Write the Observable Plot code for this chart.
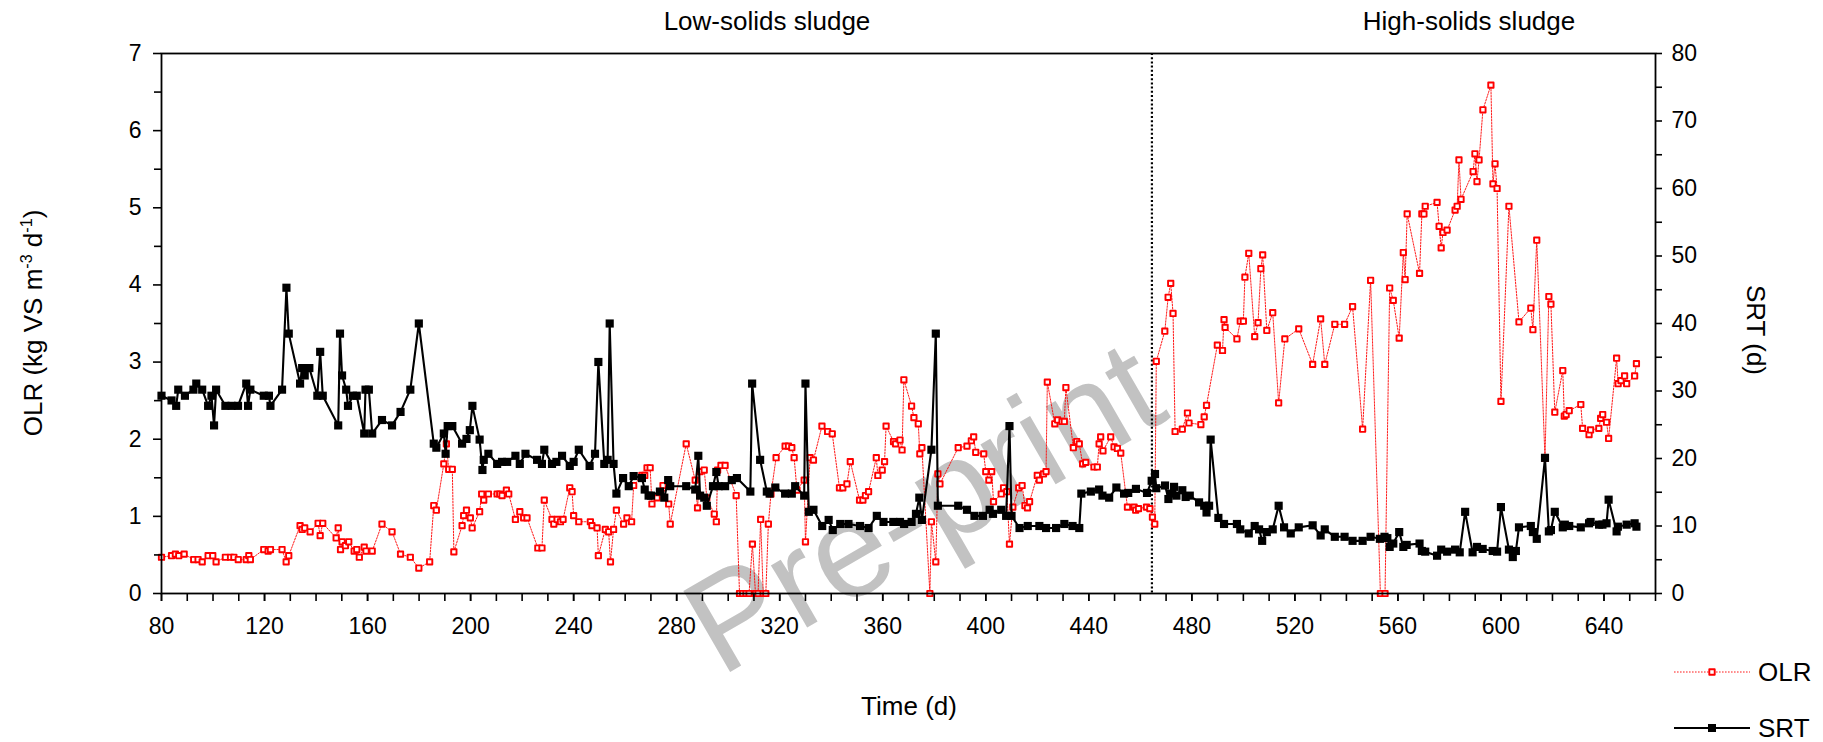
<!DOCTYPE html>
<html>
<head>
<meta charset="utf-8">
<script src="https://cdn.jsdelivr.net/npm/d3@7"></script>
<script src="https://cdn.jsdelivr.net/npm/@observablehq/plot@0.6"></script>
<style>
  body { margin: 0; background: #fff; }
  #wrap { position: relative; width: 1823px; height: 742px; font-family: "Liberation Sans", Arial, sans-serif; color: #000; overflow: hidden; }
  #chart { position: absolute; left: 0; top: 0; }
  .lbl { position: absolute; white-space: nowrap; font-size: 26px; line-height: 1; transform: translate(-50%, -50%); }
  .lbl sup { font-size: 0.62em; vertical-align: 0.62em; line-height: 0; }
  .leg { position: absolute; left: 1672px; height: 24px; display: flex; align-items: center; font-size: 26px; line-height: 24px; }
  .leg svg { display: block; margin-right: 6px; }
</style>
</head>
<body>
<div id="wrap">
  <div id="chart"></div>
</div>
<script>
// ---------- data ----------
const olrDay = [80.0,83.9,85.4,86.7,88.8,92.5,94.2,95.8,98.1,99.9,101.2,104.8,106.8,108.1,109.8,112.9,113.9,114.5,119.7,121.4,122.3,126.8,128.4,129.4,133.8,134.6,135.6,137.7,140.8,141.6,142.6,147.8,148.6,149.5,150.1,151.4,152.7,154.8,155.8,156.8,158.7,159.4,161.8,165.6,169.5,172.8,176.6,179.9,184.1,185.7,186.7,189.6,190.6,191.5,192.9,193.5,196.7,197.3,198.4,199.9,200.6,203.5,204.3,205.1,206.9,210.3,211.3,212.2,213.9,214.8,217.4,219.1,220.6,221.9,226.1,227.7,228.6,231.6,232.3,233.6,234.9,235.9,238.5,239.4,240.0,242.0,246.5,247.1,249.1,249.6,252.3,253.6,254.3,255.5,256.6,259.4,260.7,262.5,263.3,266.5,267.6,268.5,269.7,270.4,272.4,274.7,276.9,277.5,283.7,287.2,288.1,289.1,290.7,291.7,294.6,295.4,295.9,297.2,298.8,303.1,304.4,305.6,306.9,308.1,309.4,310.6,311.6,312.6,313.6,314.6,315.6,316.6,318.6,322.1,323.4,324.7,325.6,326.7,329.5,330.0,331.8,333.1,336.4,338.6,340.4,343.2,344.5,346.1,347.4,351.0,352.3,353.3,354.5,357.5,358.1,359.8,360.7,361.3,364.2,365.0,366.7,367.5,368.2,371.2,372.1,373.8,374.4,375.2,378.3,378.9,380.6,381.4,382.2,389.3,392.7,394.4,395.3,396.1,399.2,400.0,401.2,402.3,403.0,406.0,406.9,408.2,409.2,410.5,412.8,414.1,415.2,416.2,417.0,420.0,420.8,422.4,423.4,423.9,426.8,427.9,429.6,430.5,431.1,434.0,435.3,436.3,437.6,438.8,442.0,443.3,444.0,444.6,445.5,448.5,449.8,451.1,452.4,455.0,457.6,458.2,459.3,462.4,463.7,464.7,465.6,466.2,469.5,470.8,471.8,472.7,473.5,476.3,478.3,478.9,483.5,484.8,485.7,489.9,491.9,492.5,492.9,497.5,498.8,500.0,500.6,502.1,504.4,505.7,506.8,507.5,509.1,511.4,513.7,516.1,521.5,526.9,530.0,531.6,535.5,539.3,542.4,546.3,549.4,553.2,555.0,556.8,558.2,560.5,562.1,562.8,563.6,568.4,569.3,570.1,570.6,575.2,576.0,576.8,577.5,579.1,582.2,583.0,583.7,584.5,589.2,589.9,590.7,591.5,593.0,596.1,596.9,597.7,598.5,600.0,603.1,607.0,611.6,612.4,613.9,617.1,618.6,619.4,620.9,624.0,624.6,625.3,626.5,631.0,631.7,634.2,634.8,638.0,638.7,639.5,641.0,641.8,644.9,645.5,646.6,648.0,648.8,651.9,652.6];
const olrValue = [0.47,0.49,0.51,0.49,0.51,0.44,0.44,0.41,0.49,0.49,0.41,0.47,0.47,0.47,0.44,0.44,0.49,0.44,0.57,0.55,0.57,0.57,0.41,0.49,0.88,0.83,0.85,0.80,0.91,0.75,0.91,0.72,0.85,0.57,0.67,0.62,0.67,0.55,0.57,0.47,0.60,0.55,0.55,0.90,0.80,0.51,0.47,0.33,0.41,1.14,1.08,1.68,1.94,1.61,1.61,0.54,0.88,1.01,1.08,0.98,0.85,1.06,1.29,1.21,1.29,1.29,1.29,1.27,1.34,1.29,0.96,1.06,0.98,0.98,0.59,0.59,1.21,0.96,0.90,0.96,0.93,0.96,1.37,1.32,1.01,0.93,0.93,0.88,0.85,0.49,0.83,0.80,0.41,0.83,1.08,0.90,0.98,0.93,1.40,1.53,1.53,1.63,1.63,1.16,1.24,1.40,1.16,0.90,1.94,1.47,1.11,1.58,1.60,1.24,1.03,0.93,1.60,1.66,1.66,1.27,0,0,0,0,0.64,0,0,0.96,0,0,0.90,1.29,1.76,1.91,1.91,1.89,1.76,1.34,1.47,0.67,1.76,1.73,2.17,2.10,2.07,1.37,1.37,1.42,1.71,1.21,1.21,1.27,1.32,1.76,1.53,1.60,1.71,2.17,1.97,1.94,1.99,1.86,2.77,2.43,2.28,2.20,1.81,1.89,0,0.93,0.41,1.55,1.42,1.89,1.91,1.98,2.03,1.83,1.81,1.58,1.47,1.58,1.19,1.29,1.37,1.32,0.64,1.12,1.37,1.40,1.14,1.11,1.19,1.53,1.47,1.55,1.58,2.74,2.20,2.25,2.23,2.23,2.67,1.89,1.97,1.94,1.68,1.70,1.64,1.64,1.94,2.03,1.85,2.03,1.90,1.88,1.82,1.12,1.12,1.08,1.10,1.12,1.10,0.99,0.90,3.01,3.40,3.84,4.02,3.63,2.10,2.13,2.34,2.21,2.19,2.29,2.44,3.22,3.15,3.55,3.45,3.30,3.53,3.53,4.10,4.41,3.33,3.51,4.21,4.39,3.41,3.64,2.47,3.30,3.43,2.97,3.56,2.97,3.49,3.49,3.72,2.13,4.06,0,0,3.96,3.80,3.31,4.42,4.07,4.92,4.15,4.92,4.92,5.02,5.07,4.76,4.48,4.68,4.71,4.97,5.02,5.62,5.11,5.47,5.70,5.34,5.62,6.27,6.59,5.31,5.57,5.25,2.49,5.02,3.52,3.70,3.42,4.58,1.75,3.85,3.75,2.35,2.89,2.30,2.32,2.37,2.45,2.14,2.06,2.12,2.14,2.27,2.32,2.22,2.01,3.05,2.72,2.76,2.82,2.72,2.82,2.98];

const srtDay = [80.0,83.9,85.7,86.5,89.1,92.4,93.5,95.8,98.1,99.4,100.4,101.2,104.8,107.2,109.7,112.9,113.6,114.5,119.7,121.7,122.3,126.8,128.5,129.4,133.8,134.6,135.6,137.4,140.5,141.6,142.6,148.6,149.3,150.1,151.7,152.4,154.3,155.8,158.7,159.2,160.5,161.8,165.6,169.5,172.8,176.6,179.9,185.7,186.7,189.6,190.3,191.1,192.9,196.7,198.4,199.7,200.7,203.5,204.6,205.1,206.9,210.3,212.2,214.2,217.4,219.1,221.3,225.8,227.7,228.6,231.6,233.3,235.5,238.5,240.0,242.0,246.2,248.3,249.6,251.9,253.2,254.0,255.5,256.6,259.2,261.4,263.3,266.5,267.6,269.1,270.0,273.5,275.2,276.7,277.5,283.7,287.2,288.4,289.1,290.7,291.7,294.1,295.4,296.3,298.8,301.4,303.4,308.6,309.3,312.4,315.0,316.1,318.3,322.1,324.7,326.0,329.5,330.0,331.3,333.1,336.5,339.0,340.6,343.5,346.7,351.2,354.5,357.7,360.3,364.1,366.7,368.3,371.2,372.9,374.2,375.2,378.9,380.6,381.4,389.3,392.7,395.6,398.9,401.5,402.8,406.0,407.9,409.2,410.0,413.1,416.3,420.8,423.4,427.3,430.5,433.7,436.3,437.1,440.8,444.0,445.3,447.9,450.7,453.7,455.3,458.3,462.6,464.4,465.7,466.2,469.6,470.9,471.9,473.1,474.0,476.3,477.6,479.2,482.8,484.8,485.7,486.7,487.3,490.3,492.5,497.5,498.8,502.1,504.4,506.1,507.3,509.1,511.4,513.7,515.8,518.4,521.5,526.9,530.0,531.6,535.5,539.3,542.4,546.3,549.4,553.0,554.8,555.9,556.8,558.2,560.5,562.1,563.4,568.4,569.3,570.6,575.2,576.8,579.1,582.2,584.0,586.1,589.0,590.7,592.9,596.8,598.5,600.0,603.1,604.6,605.8,607.0,611.6,612.4,613.9,617.1,618.6,619.4,620.9,624.0,624.8,626.5,631.0,634.2,634.8,638.1,639.4,641.0,641.8,644.9,645.4,648.8,651.9,652.6];
const srtValue = [29.3,28.6,27.8,30.2,29.3,30.2,31.1,30.2,27.8,29.3,24.9,30.2,27.8,27.8,27.8,31.1,27.8,30.2,29.3,29.3,27.8,30.2,45.3,38.5,31.1,33.4,32.3,33.4,29.3,35.8,29.3,24.9,38.5,32.3,30.2,27.8,29.3,29.3,23.7,30.2,30.2,23.7,25.7,24.9,26.9,30.2,40.0,22.2,21.6,23.7,20.7,24.8,24.8,22.2,22.9,24.2,27.8,22.8,18.3,19.8,20.7,19.2,19.5,19.5,20.4,19.2,20.7,19.8,19.2,21.3,19.2,19.5,20.4,18.9,19.5,21.3,18.9,20.7,34.3,19.2,19.8,40.0,19.2,14.8,17.1,15.9,17.4,17.1,15.4,14.5,14.5,15.1,14.2,16.8,15.9,15.9,15.4,20.4,14.5,14.2,13.0,15.9,18.0,15.9,15.9,16.8,17.1,15.1,31.1,19.8,15.1,14.8,15.7,14.8,14.8,15.9,14.5,31.1,12.1,12.4,10.0,10.9,9.4,10.3,10.3,10.0,9.7,11.5,10.6,10.6,10.6,10.3,10.6,11.8,14.2,10.9,21.3,38.5,13.0,13.0,12.4,11.5,11.5,12.4,11.8,12.4,11.5,24.8,11.5,9.7,10.0,10.0,9.7,9.7,10.3,10.0,9.7,14.8,15.1,15.4,14.5,14.2,15.7,14.8,14.9,15.5,14.9,16.7,17.7,15.6,16.0,14.0,14.8,15.8,14.5,15.3,14.3,14.5,13.5,13.0,12.0,13.0,22.8,11.2,10.3,10.3,9.5,8.9,10.0,9.5,7.8,9.1,9.5,13.0,9.8,8.9,9.8,10.1,8.6,9.5,8.4,8.4,7.8,7.8,8.4,8.1,8.4,8.2,6.9,7.4,9.1,6.9,7.2,7.4,6.3,6.2,5.6,6.5,6.2,6.5,6.1,12.1,6.1,6.9,6.6,6.3,6.2,12.8,6.5,5.4,6.3,9.8,10.0,9.1,8.1,20.1,9.2,9.4,12.1,9.8,10.2,10.0,9.8,10.4,10.6,10.2,10.2,10.4,13.9,9.2,9.9,10.2,10.4,9.9];

// axis ticks / labels
const xTickLabels = [80,120,160,200,240,280,320,360,400,440,480,520,560,600,640];
const xMinorTicks = d3.range(80, 661, 10);
const xDomain = [80, 660];
const olrTicks = [0,1,2,3,4,5,6,7];
const olrMinorTicks = [0.5,1.5,2.5,3.5,4.5,5.5,6.5];
const srtTicks = [0,10,20,30,40,50,60,70,80];
const srtMinorTicks = [5,15,25,35,45,55,65,75];
const phaseBoundary = [464.5];
const phaseLabels = ["Low-solids sludge", "High-solids sludge"];
const seriesNames = ["OLR", "SRT"];

// ---------- build ----------
const olr = olrDay.map((d, i) => ({day: d, value: olrValue[i]}));
const srt = srtDay.map((d, i) => ({day: d, value: srtValue[i]}));
const olrMax = d3.max(olrTicks), srtMax = d3.max(srtTicks);
const toLeft = v => v * olrMax / srtMax;   // SRT (right axis) -> OLR (left axis) units

const FONT = '"Liberation Sans", Arial, sans-serif';

const chart = Plot.plot({
  width: 1823,
  height: 742,
  marginLeft: 161,
  marginRight: 168,
  marginTop: 53,
  marginBottom: 149,
  x: {domain: xDomain},
  y: {domain: [0, olrMax]},
  style: {fontFamily: FONT, fontSize: "23px", color: "#000", background: "white", overflow: "visible"},
  marks: [
    Plot.text(["Pre-print"], {frameAnchor: "middle", dx: 16, dy: 186, rotate: -30, fontSize: 136, fill: "#c2c2c2", fontFamily: FONT, textAnchor: "middle", lineAnchor: "middle"}),
    Plot.ruleX(phaseBoundary, {stroke: "#000", strokeWidth: 2.2, strokeDasharray: "2,2.2"}),
    // OLR
    Plot.line(olr, {x: "day", y: "value", stroke: "#ff0000", strokeWidth: 0.9, strokeDasharray: "1.6,1.4"}),
    Plot.dot(olr, {x: "day", y: "value", symbol: "square", r: 3.0, stroke: "#ff0000", strokeWidth: 1.9, fill: "white", strokeLinejoin: "round"}),
    // SRT
    Plot.line(srt, {x: "day", y: d => toLeft(d.value), stroke: "#000", strokeWidth: 2.1}),
    Plot.dot(srt, {x: "day", y: d => toLeft(d.value), symbol: "square", r: 4.6, fill: "#000"}),
    Plot.frame({stroke: "#000", strokeWidth: 1.8}),
    // axes
    Plot.axisX(xTickLabels, {tickSize: 8, tickPadding: 16, strokeWidth: 1.6, fontSize: 23, label: null, tickFormat: d => String(d)}),
    Plot.axisX(xMinorTicks, {tickSize: 8, strokeWidth: 1.6, label: null, tickFormat: () => ""}),
    Plot.axisY(olrTicks, {tickSize: 8, tickPadding: 12, strokeWidth: 1.6, fontSize: 23, label: null, tickFormat: d => String(d)}),
    Plot.axisY(olrMinorTicks, {tickSize: 7, strokeWidth: 1.6, label: null, tickFormat: () => ""}),
    Plot.axisY(srtTicks.map(toLeft), {anchor: "right", tickSize: 6, tickPadding: 10, strokeWidth: 1.6, fontSize: 23, label: null, tickFormat: d => String(Math.round(d * srtMax / olrMax))}),
    Plot.axisY(srtMinorTicks.map(toLeft), {anchor: "right", tickSize: 6, strokeWidth: 1.6, label: null, tickFormat: () => ""})
  ]
});
document.getElementById("chart").appendChild(chart);

// ---------- text overlays ----------
const wrap = document.getElementById("wrap");
function addLabel(html, x, y, rot, size) {
  const el = document.createElement("div");
  el.className = "lbl";
  el.innerHTML = html;
  el.style.left = x + "px";
  el.style.top = y + "px";
  if (size) el.style.fontSize = size + "px";
  el.style.transform = "translate(-50%, -50%)" + (rot ? " rotate(" + rot + "deg)" : "");
  wrap.appendChild(el);
}
addLabel(phaseLabels[0], 767, 21, 0, 26);
addLabel(phaseLabels[1], 1469, 21, 0, 26);
addLabel("OLR (kg VS m<sup>-3</sup> d<sup>-1</sup>)", 33, 323, -90, 26);
addLabel("SRT (d)", 1756, 330, 90, 26);
addLabel("Time (d)", 909, 706, 0, 26);

// legend
function addLegend(name, y, isOLR) {
  const el = document.createElement("div");
  el.className = "leg";
  el.style.top = (y - 12) + "px";
  const sw = isOLR
    ? '<svg width="80" height="24"><line x1="2" x2="78" y1="12" y2="12" stroke="#ff0000" stroke-width="0.9" stroke-dasharray="1.6,1.4"/><rect x="37.3" y="9.3" width="5.4" height="5.4" fill="white" stroke="#ff0000" stroke-width="1.9" stroke-linejoin="round"/></svg>'
    : '<svg width="80" height="24"><line x1="2" x2="78" y1="12" y2="12" stroke="#000" stroke-width="2.1"/><rect x="36" y="8" width="8" height="8" fill="#000"/></svg>';
  el.innerHTML = sw + "<span>" + name + "</span>";
  wrap.appendChild(el);
}
addLegend(seriesNames[0], 672, true);
addLegend(seriesNames[1], 728, false);
</script>
</body>
</html>
